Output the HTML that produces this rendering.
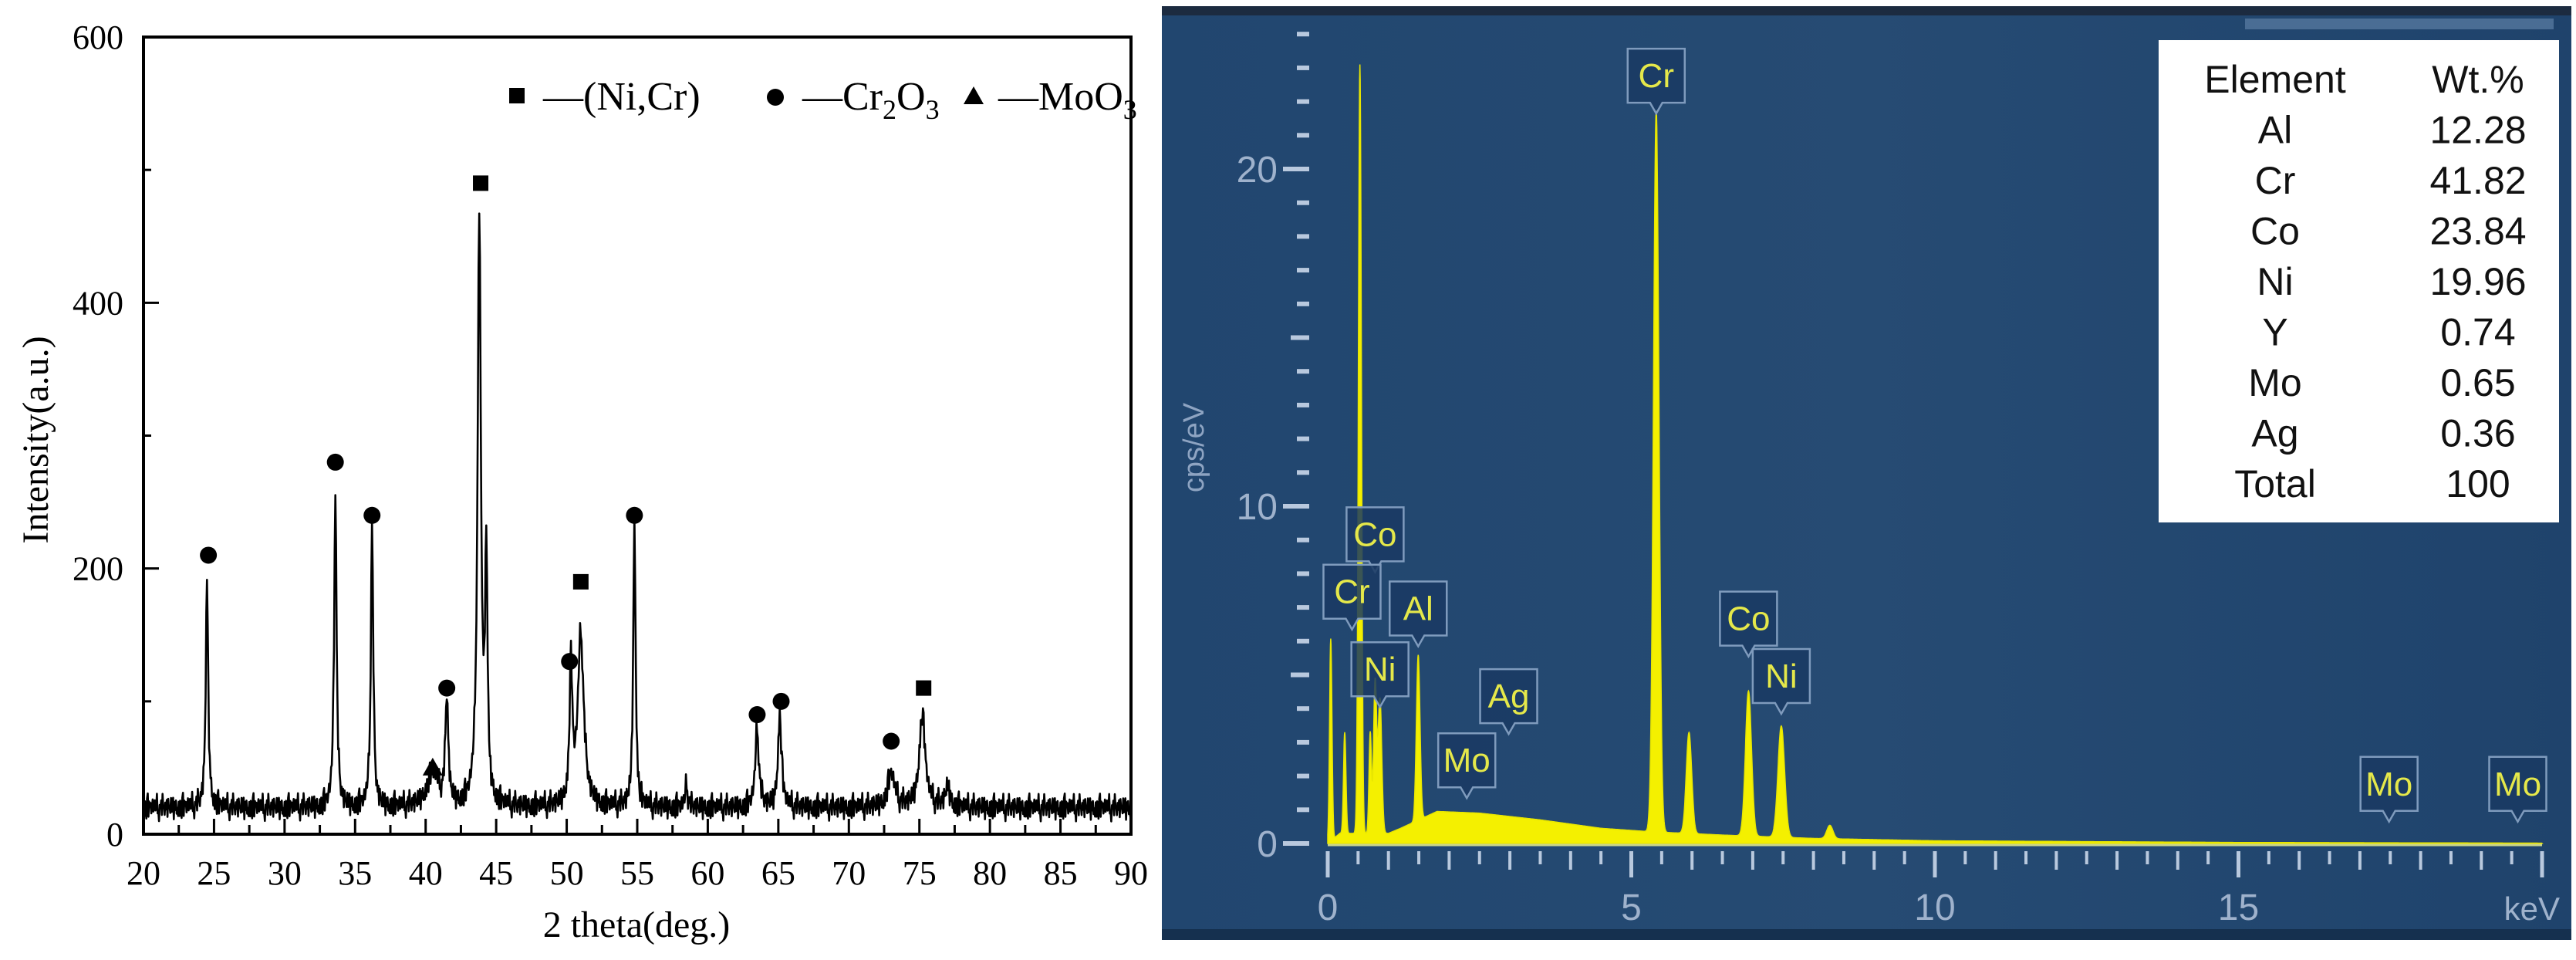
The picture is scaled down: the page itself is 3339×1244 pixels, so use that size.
<!DOCTYPE html>
<html><head><meta charset="utf-8"><style>
html,body{margin:0;padding:0;background:#fff;}
svg{display:block;}
</style></head><body>
<svg id="fig" xmlns="http://www.w3.org/2000/svg" width="3339" height="1244" viewBox="0 0 3339 1244">
  <defs>
    <linearGradient id="panelGrad" x1="0" y1="0" x2="1" y2="0">
      <stop offset="0" stop-color="#21466f"/>
      <stop offset="0.5" stop-color="#264b73"/>
      <stop offset="1" stop-color="#1f436c"/>
    </linearGradient>
  </defs>
  <rect width="3339" height="1244" fill="#fff"/>
  <g id="xrd"></g>
  <g id="eds"></g>
</svg>
<script>
// ---------- XRD data ----------
const xrdPeakPos =    [24.5, 33.6, 36.2, 40.5, 41.5, 43.8, 44.3, 50.3, 51.0, 54.8, 58.5, 63.5, 65.1, 73.0, 75.2, 77.0];
const xrdPeakHeight = [175,  245,  215,  25,   80,   445,  180,  100,  130,  215,  18,   60,   70,   25,   70,   15];
const xrdPeakWidth =  [0.10, 0.10, 0.10, 0.5,  0.12, 0.14, 0.10, 0.12, 0.25, 0.10, 0.1,  0.15, 0.15, 0.3,  0.25, 0.2];
const xrdBaseline = 20;
const xrdNoise = [3,-5,7,-2,-8,4,9,-6,1,-3,6,-9,2,8,-4,-1,5,-7,3,10,-5,0,-8,6,-2,4,-6,9,-3,1,-9,7,-1,3,-5,8,-4,2,-7,5,0,-3,6,-8,4,-2,9,-6,1,-4];
const markerSquare = [[43.9,490],[51.0,190],[75.3,110]];
const markerCircle = [[24.6,210],[33.6,280],[36.2,240],[41.5,110],[50.2,130],[54.8,240],[63.5,90],[65.2,100],[73.0,70]];
const markerTriangle = [[40.5,50]];
const xrdXTicks = [20,25,30,35,40,45,50,55,60,65,70,75,80,85,90];
const xrdYTicks = [0,200,400,600];

// ---------- EDS data ----------
const edsPeakE =     [0.05, 0.28, 0.53, 0.70, 0.78, 0.86, 1.49, 5.41, 5.95, 6.93, 7.47, 8.27];
const edsPeakH =     [6.0,  3.0,  22.8, 3.0,  4.5,  4.0,  4.9,  21.4, 3.0,  4.3,  3.3,  0.4];
const edsPeakSigma = [0.02, 0.02, 0.025,0.02, 0.025,0.03, 0.03, 0.045,0.045,0.05, 0.055,0.05];
const edsBgE = [0, 0.2, 1.0, 1.2, 1.8, 2.5, 3.5, 4.5, 5.3, 6.5, 8, 10, 15, 20];
const edsBgV = [0, 0.3, 0.3, 0.45,0.95,0.9, 0.7, 0.45,0.35,0.25,0.15,0.08,0.03,0.01];
const edsLabels = ['Cr','Co','Cr','Al','Ni','Ag','Mo','Co','Ni','Mo','Mo'];
const edsLabelE = [5.41, 0.78, 0.40, 1.49, 0.86, 2.98, 2.29, 6.93, 7.47, 17.48, 19.6];
const edsLabelV = [21.6, 8.0, 6.3, 5.8, 4.0, 3.2, 1.3, 5.5, 3.8, 0.6, 0.6];
const tableElements = ['Al','Cr','Co','Ni','Y','Mo','Ag','Total'];
const tableWt = ['12.28','41.82','23.84','19.96','0.74','0.65','0.36','100'];
const edsXTicks = [0,5,10,15];
const edsYTicks = [0,10,20];

const NS='http://www.w3.org/2000/svg';
function mk(parent, tag, attrs, text){
  const e=document.createElementNS(NS,tag);
  for(const k in attrs) e.setAttribute(k,attrs[k]);
  if(text!==undefined) e.textContent=text;
  parent.appendChild(e); return e;
}

// ===== XRD =====
(function(){
  const g=document.getElementById('xrd');
  const L=186,R=1466,T=48,B=1081;
  const x=v=>L+(v-20)/(90-20)*(R-L);
  const y=v=>B-(v/600)*(B-T);
  let pts=[];
  let i=0;
  for(let t=20;t<=90.001;t+=0.05,i++){
    let v=xrdBaseline+xrdNoise[i%xrdNoise.length]*0.9+xrdNoise[(i*7)%xrdNoise.length]*0.4;
    for(let k=0;k<xrdPeakPos.length;k++){
      const d=(t-xrdPeakPos[k])/xrdPeakWidth[k];
      v+=xrdPeakHeight[k]/(1+d*d);
    }
    pts.push(x(t).toFixed(1)+','+y(Math.max(v,2)).toFixed(1));
  }
  const line=mk(g,'polyline',{points:pts.join(' '),fill:'none',stroke:'#000','stroke-width':2.6,'stroke-linejoin':'round'});
  
  
  const fr=mk(g,'rect',{x:L,y:T,width:R-L,height:B-T,fill:'none',stroke:'#000','stroke-width':4});
  
  
  for(let v=20;v<=90;v+=2.5){
    const maj=(v%5===0);
    const tk=mk(g,'line',{x1:x(v),x2:x(v),y1:B,y2:B-(maj?20:12),stroke:'#000','stroke-width':3});
    
    
  }
  xrdXTicks.forEach(v=>{
    const t=mk(g,'text',{x:x(v),y:1146,'text-anchor':'middle','font-family':'Liberation Serif, serif','font-size':44},String(v));
    
    
  });
  for(let v=0;v<=600;v+=100){
    const maj=(v%200===0);
    const tk=mk(g,'line',{x1:L,x2:L+(maj?20:10),y1:y(v),y2:y(v),stroke:'#000','stroke-width':3});
    
    
  }
  xrdYTicks.forEach(v=>{
    const t=mk(g,'text',{x:160,y:y(v)+15,'text-anchor':'end','font-family':'Liberation Serif, serif','font-size':44},String(v));
    
    
  });
  const xt=mk(g,'text',{x:825,y:1214,'text-anchor':'middle','font-family':'Liberation Serif, serif','font-size':48},'2 theta(deg.)');
  
  
  const yt=mk(g,'text',{x:0,y:0,'text-anchor':'middle','font-family':'Liberation Serif, serif','font-size':48,transform:'translate(62,570) rotate(-90)'},'Intensity(a.u.)');
  
  
  markerSquare.forEach(p=>{
    const m=mk(g,'rect',{x:x(p[0])-10,y:y(p[1])-10,width:20,height:20,fill:'#000'});
    
    
  });
  markerCircle.forEach(p=>{
    const m=mk(g,'circle',{cx:x(p[0]),cy:y(p[1]),r:11,fill:'#000'});
    
    
  });
  markerTriangle.forEach(p=>{
    const cx=x(p[0]),cy=y(p[1]);
    const m=mk(g,'polygon',{points:`${cx},${cy-13} ${cx-13},${cy+10} ${cx+13},${cy+10}`,fill:'#000'});
    
    
  });
  const lg=mk(g,'g',{});
  
  
  const f='Liberation Serif, serif';
  const e1=mk(lg,'rect',{x:660,y:114,width:20,height:20,fill:'#000'});
  
  
  const t1=mk(lg,'text',{x:704,y:142,'font-family':f,'font-size':52},'\u2014(Ni,Cr)');
  
  
  const e2=mk(lg,'circle',{cx:1005,cy:126,r:11,fill:'#000'});
  
  
  const t2=mk(lg,'text',{x:1040,y:142,'font-family':f,'font-size':52});
  t2.innerHTML='\u2014Cr<tspan font-size="36" dy="12">2</tspan><tspan dy="-12">O</tspan><tspan font-size="36" dy="12">3</tspan>';
  
  
  const e3=mk(lg,'polygon',{points:'1262,112 1249,135 1275,135',fill:'#000'});
  
  
  const t3=mk(lg,'text',{x:1294,y:142,'font-family':f,'font-size':52});
  t3.innerHTML='\u2014MoO<tspan font-size="36" dy="12">3</tspan>';
  
  
})();

// ===== EDS =====
(function(){
  const g=document.getElementById('eds');
  const x0=1721, pxPerKeV=78.7, y0=1093, pxPerUnit=43.7;
  const x=v=>x0+v*pxPerKeV;
  const y=v=>y0-v*pxPerUnit;
  const p=mk(g,'rect',{x:1506,y:8,width:1827,height:1210,fill:'url(#panelGrad)'});
  
  
  const tb=mk(g,'rect',{x:1506,y:8,width:1827,height:12,fill:'#1c2b40'});
  
  
  const bb=mk(g,'rect',{x:1506,y:1204,width:1827,height:14,fill:'#15304f'});
  
  
  const ls=mk(g,'rect',{x:2910,y:24,width:400,height:14,fill:'#4a6d94'});
  
  
  function bg(e){
    for(let k=0;k<edsBgE.length-1;k++){
      if(e>=edsBgE[k]&&e<=edsBgE[k+1]){const f=(e-edsBgE[k])/(edsBgE[k+1]-edsBgE[k]);return edsBgV[k]+f*(edsBgV[k+1]-edsBgV[k]);}
    }
    return 0;
  }
  let pts=[x(0)+','+y0];
  for(let e=0;e<=20.001;e+=0.005){
    let v=bg(e);
    for(let k=0;k<edsPeakE.length;k++){const d=(e-edsPeakE[k])/edsPeakSigma[k];v+=edsPeakH[k]*Math.exp(-0.5*d*d);}
    pts.push(x(e).toFixed(1)+','+y(v).toFixed(1));
  }
  pts.push(x(20)+','+y0);
  const sp=mk(g,'polygon',{points:pts.join(' '),fill:'#f4f000',stroke:'#e8e600','stroke-width':1.5});
  
  
  const ax=mk(g,'line',{x1:x(0),x2:x(20),y1:y0+2,y2:y0+2,stroke:'#c9d48a','stroke-width':3});
  
  
  for(let v=0;v<=24;v++){
    const len=(v%10===0)?34:(v%5===0)?24:16;
    const tk=mk(g,'line',{x1:1697-len,x2:1697,y1:y(v),y2:y(v),stroke:'#b9c9de','stroke-width':6});
    
    
  }
  edsYTicks.forEach(v=>{
    const t=mk(g,'text',{x:1656,y:y(v)+17,'text-anchor':'end','font-family':'Liberation Sans, sans-serif','font-size':48,fill:'#9fb2cc'},String(v));
    
    
  });
  for(let v=0;v<=20.001;v+=0.5){
    const maj=Math.abs(v%5)<1e-6, mid=Math.abs(v%1)<1e-6;
    const tk=mk(g,'line',{x1:x(v),x2:x(v),y1:1103,y2:maj?1137:(mid?1127:1120),stroke:'#b9c9de','stroke-width':maj?5:4});
    
    
  }
  edsXTicks.forEach(v=>{
    const t=mk(g,'text',{x:x(v),y:1192,'text-anchor':'middle','font-family':'Liberation Sans, sans-serif','font-size':48,fill:'#9fb2cc'},String(v));
    
    
  });
  const ku=mk(g,'text',{x:3318,y:1192,'text-anchor':'end','font-family':'Liberation Sans, sans-serif','font-size':42,fill:'#9fb2cc'},'keV');
  
  
  const yl=mk(g,'text',{x:0,y:0,'text-anchor':'middle','font-family':'Liberation Sans, sans-serif','font-size':38,fill:'#8ea4c2',transform:'translate(1560,580) rotate(-90)'},'cps/eV');
  
  
  edsLabels.forEach((s,i)=>{
    const cx=x(edsLabelE[i]), tipY=y(edsLabelV[i]);
    const w=s.length>1?74:52, h=70, top=tipY-h-16;
    const lab=mk(g,'g',{});
    
    
    mk(lab,'path',{d:`M${cx-w/2},${top} h${w} v${h} h${-w/2+8} l-8,14 l-8,-14 h${-w/2+8} z`,fill:'#1a3a63','fill-opacity':0.85,stroke:'#7f9bbd','stroke-width':2.5});
    mk(lab,'text',{x:cx,y:top+50,'text-anchor':'middle','font-family':'Liberation Sans, sans-serif','font-size':44,fill:'#e5e84a'},s);
  });
  const tg=mk(g,'g',{});
  
  
  mk(tg,'rect',{x:2798,y:52,width:519,height:625,fill:'#fff'});
  const fs='Liberation Sans, sans-serif';
  const h1=mk(tg,'text',{x:2949,y:120,'text-anchor':'middle','font-family':fs,'font-size':50,fill:'#111'},'Element');
  
  
  const h2=mk(tg,'text',{x:3212,y:120,'text-anchor':'middle','font-family':fs,'font-size':50,fill:'#111'},'Wt.%');
  
  
  tableElements.forEach((el,i)=>{
    const yy=120+(i+1)*65.5;
    const a=mk(tg,'text',{x:2949,y:yy,'text-anchor':'middle','font-family':fs,'font-size':50,fill:'#111'},el);
    
    
    const b=mk(tg,'text',{x:3212,y:yy,'text-anchor':'middle','font-family':fs,'font-size':50,fill:'#111'},tableWt[i]);
    
    
  });
})();
</script>
</body></html>
